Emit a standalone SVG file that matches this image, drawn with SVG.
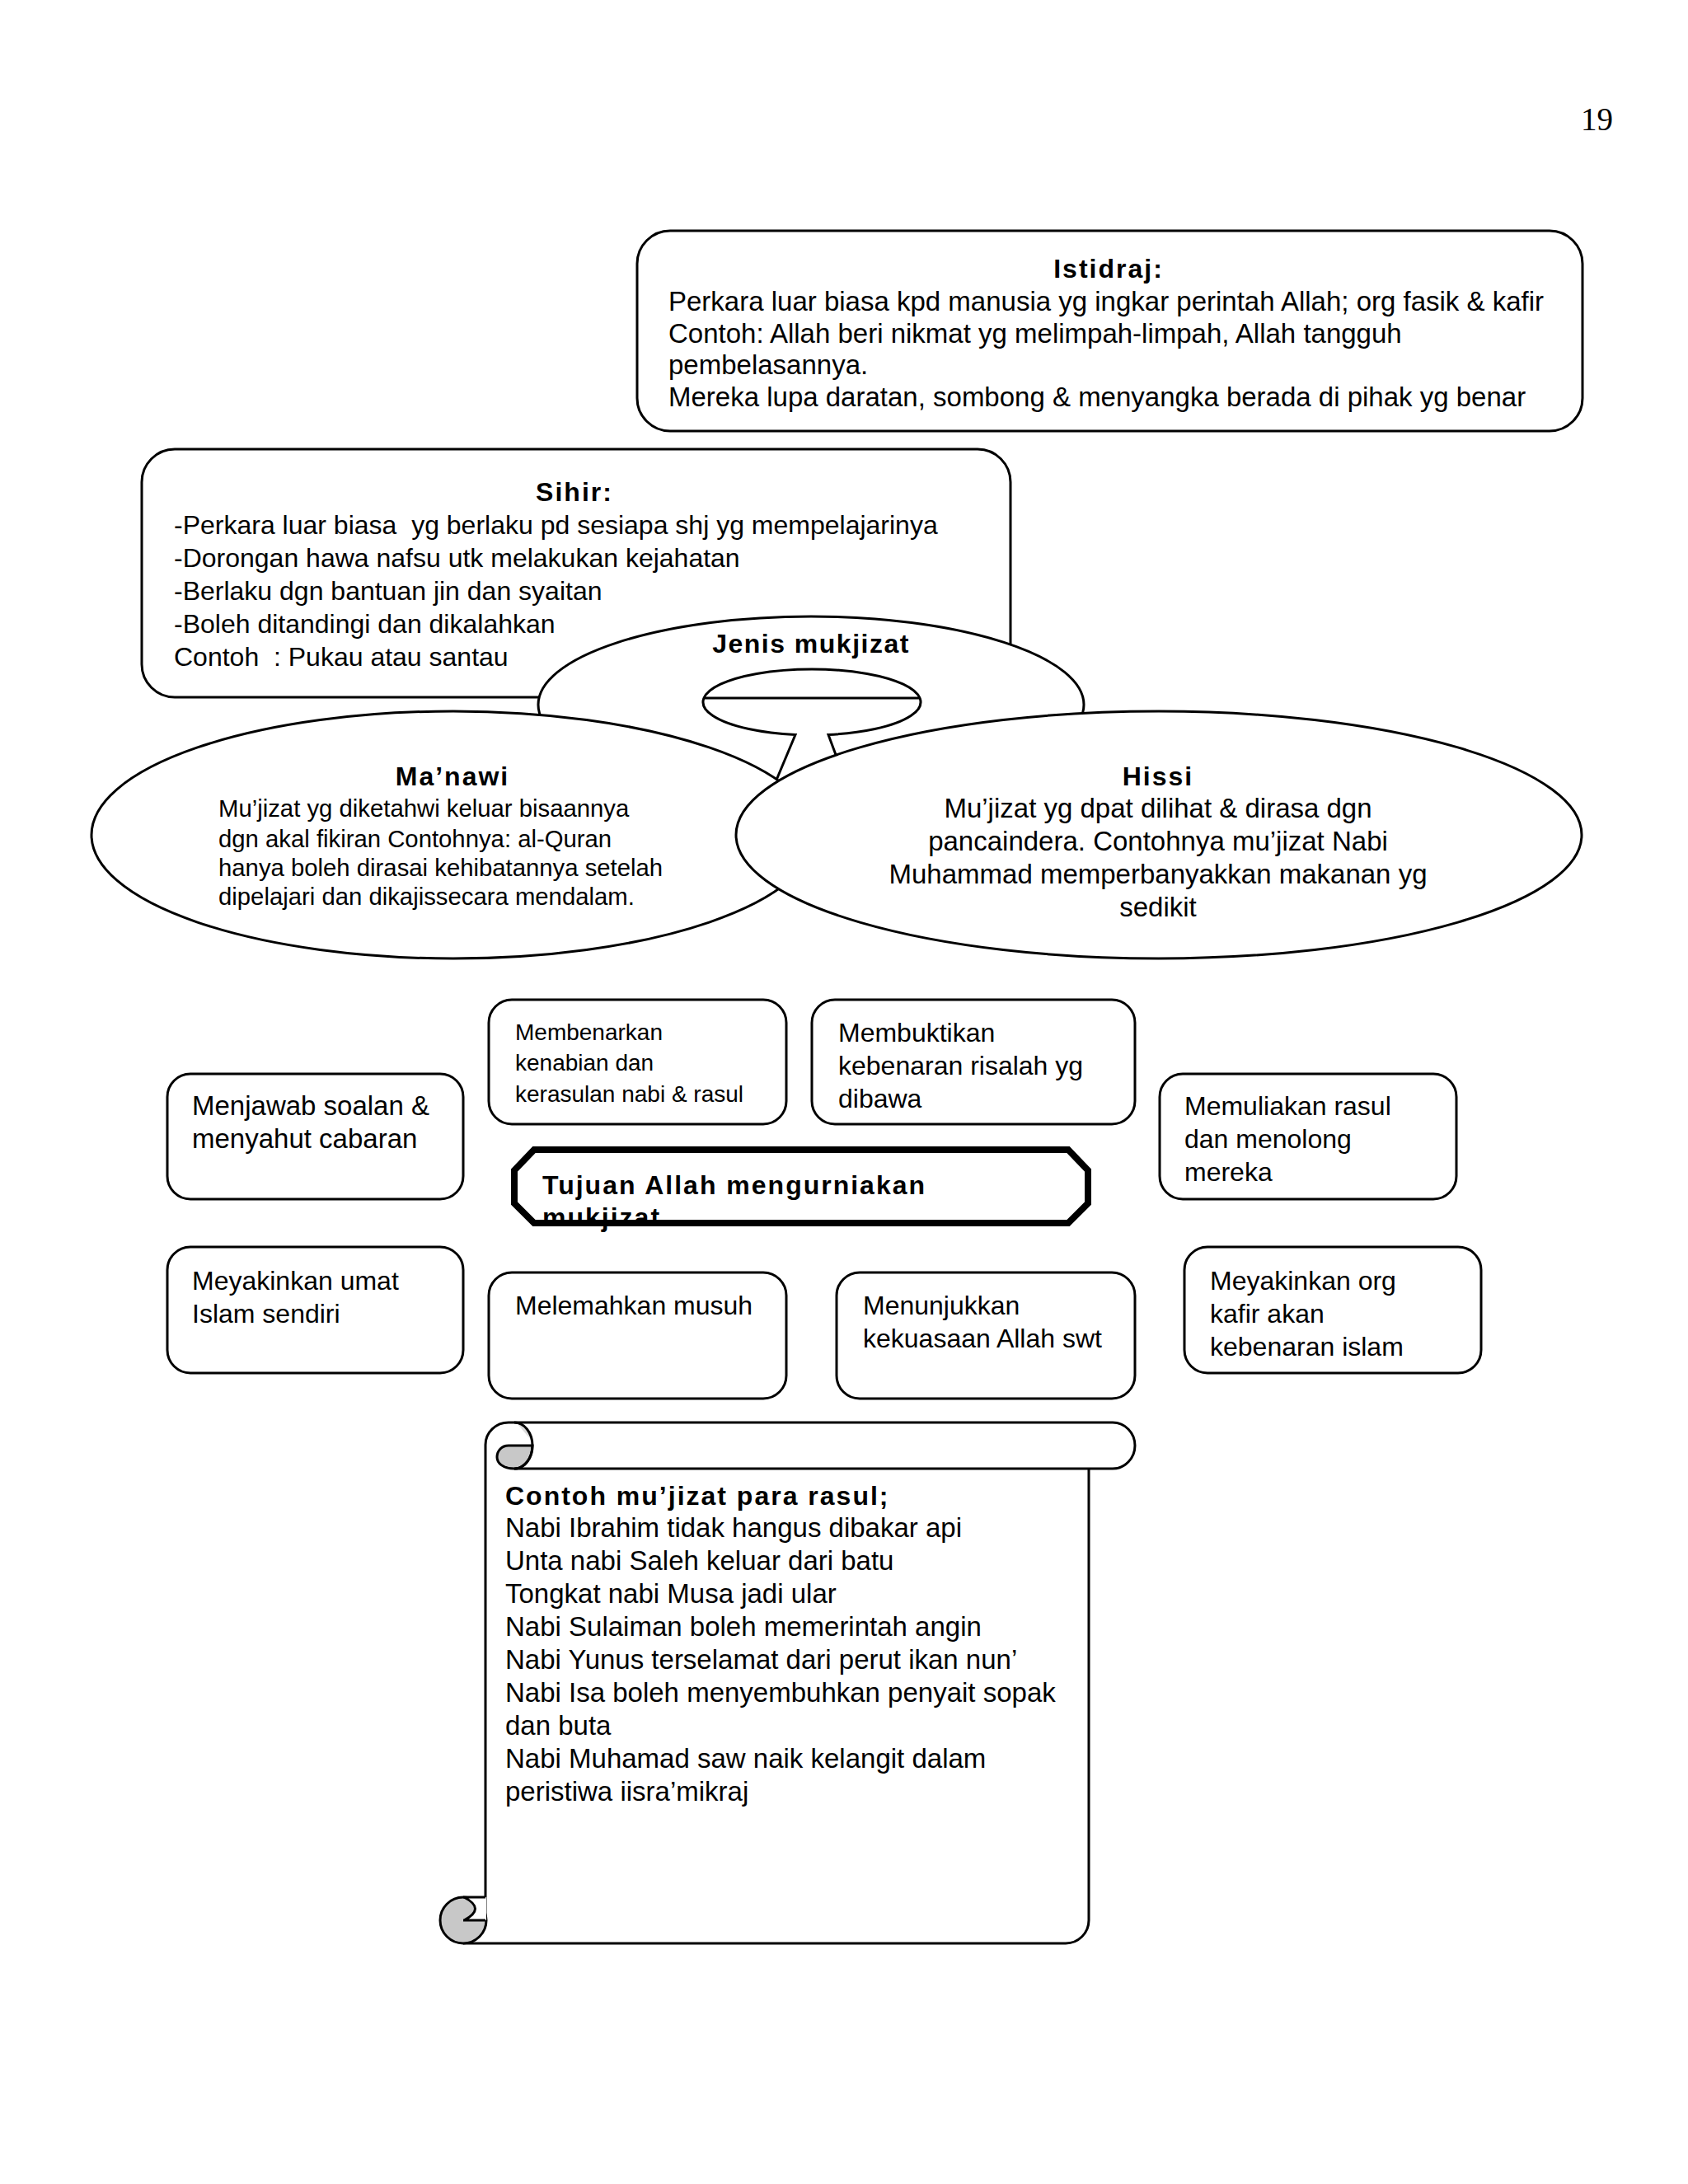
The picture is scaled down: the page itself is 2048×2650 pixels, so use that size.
<svg xmlns="http://www.w3.org/2000/svg" width="2048" height="2650" viewBox="0 0 2048 2650">
<style>
.b{fill:#fff;stroke:#000;stroke-width:3}
.s{fill:none;stroke:#000;stroke-width:3}
.t{font-family:"Liberation Sans",Arial,sans-serif;font-size:32px;fill:#000}
.h{font-weight:bold;letter-spacing:2px}
.m{text-anchor:middle}
.sm{font-size:28px}
.mn{font-size:29.3px}
.l{font-size:33px}
</style>
<rect width="2048" height="2650" fill="#fff"/>
<g id="page-number"><text x="1957" y="158" font-family="'Liberation Serif','Times New Roman',serif" font-size="39" text-anchor="end">19</text></g>

<g id="istidraj">
<rect class="b" x="773" y="280" width="1147" height="243" rx="40"/>
<text class="t h m" x="1345" y="337">Istidraj:</text>
<text class="t l" x="811" y="377">Perkara luar biasa kpd manusia yg ingkar perintah Allah; org fasik &amp; kafir</text>
<text class="t l" x="811" y="416">Contoh: Allah beri nikmat yg melimpah-limpah, Allah tangguh</text>
<text class="t l" x="811" y="454">pembelasannya.</text>
<text class="t l" x="811" y="493">Mereka lupa daratan, sombong &amp; menyangka berada di pihak yg benar</text>
</g>

<g id="sihir">
<rect class="b" x="172" y="545" width="1054" height="301" rx="40"/>
<text class="t h m" x="697" y="608">Sihir:</text>
<text class="t" x="211" y="648" xml:space="preserve">-Perkara luar biasa  yg berlaku pd sesiapa shj yg mempelajarinya</text>
<text class="t" x="211" y="688">-Dorongan hawa nafsu utk melakukan kejahatan</text>
<text class="t" x="211" y="728">-Berlaku dgn bantuan jin dan syaitan</text>
<text class="t" x="211" y="768">-Boleh ditandingi dan dikalahkan</text>
<text class="t" x="211" y="808" xml:space="preserve">Contoh  : Pukau atau santau</text>
</g>

<g id="jenis-mukjizat">
<ellipse class="b" cx="984" cy="855" rx="331" ry="107"/>
<text class="t m" x="984" y="792" font-weight="bold" letter-spacing="1.5">Jenis mukjizat</text>
<path class="b" d="M930,975 L965,891.5 A132 40 0 1 1 1005,891.5 L1036,975"/>
<path class="s" d="M853,847 H1117"/>
</g>

<g id="connectors"></g>

<g id="manawi">
<ellipse class="b" cx="550" cy="1013" rx="439" ry="150"/>
<text class="t h m" x="549" y="953" letter-spacing="1">Ma’nawi</text>
<text class="t mn" x="265" y="991">Mu’jizat yg diketahwi keluar bisaannya</text>
<text class="t mn" x="265" y="1028">dgn akal fikiran Contohnya: al-Quran</text>
<text class="t mn" x="265" y="1063">hanya boleh dirasai kehibatannya setelah</text>
<text class="t mn" x="265" y="1098">dipelajari dan dikajissecara mendalam.</text>
</g>

<g id="hissi">
<ellipse class="b" cx="1406" cy="1013" rx="513" ry="150"/>
<text class="t h m" x="1405" y="953" letter-spacing="1">Hissi</text>
<text class="t m l" x="1405" y="992">Mu’jizat yg dpat dilihat &amp; dirasa dgn</text>
<text class="t m l" x="1405" y="1032">pancaindera. Contohnya mu’jizat Nabi</text>
<text class="t m l" x="1405" y="1072">Muhammad memperbanyakkan makanan yg</text>
<text class="t m l" x="1405" y="1112">sedikit</text>
</g>

<g id="box-membenarkan">
<rect class="b" x="593" y="1213" width="361" height="151" rx="28"/>
<text class="t sm" x="625" y="1262">Membenarkan</text>
<text class="t sm" x="625" y="1299">kenabian dan</text>
<text class="t sm" x="625" y="1337">kerasulan nabi &amp; rasul</text>
</g>
<g id="box-membuktikan">
<rect class="b" x="985" y="1213" width="392" height="151" rx="28"/>
<text class="t" x="1017" y="1264">Membuktikan</text>
<text class="t" x="1017" y="1304">kebenaran risalah yg</text>
<text class="t" x="1017" y="1344">dibawa</text>
</g>
<g id="box-menjawab">
<rect class="b" x="203" y="1303" width="359" height="152" rx="28"/>
<text class="t l" x="233" y="1353">Menjawab soalan &amp;</text>
<text class="t l" x="233" y="1393">menyahut cabaran</text>
</g>
<g id="box-memuliakan">
<rect class="b" x="1407" y="1303" width="360" height="152" rx="28"/>
<text class="t" x="1437" y="1353">Memuliakan rasul</text>
<text class="t" x="1437" y="1393">dan menolong</text>
<text class="t" x="1437" y="1433">mereka</text>
</g>

<g id="tujuan">
<polygon points="648,1395 1296,1395 1320,1420 1320,1460 1296,1484 648,1484 624,1460 624,1420" fill="#fff"/>
<text class="t h" x="658" y="1449">Tujuan Allah mengurniakan</text>
<text class="t h" x="658" y="1488">mukjizat</text>
<polygon points="648,1395 1296,1395 1320,1420 1320,1460 1296,1484 648,1484 624,1460 624,1420" fill="none" stroke="#000" stroke-width="8"/>
</g>

<g id="box-meyakinkan-umat">
<rect class="b" x="203" y="1513" width="359" height="153" rx="28"/>
<text class="t" x="233" y="1565">Meyakinkan umat</text>
<text class="t" x="233" y="1605">Islam sendiri</text>
</g>
<g id="box-melemahkan">
<rect class="b" x="593" y="1544" width="361" height="153" rx="28"/>
<text class="t" x="625" y="1595">Melemahkan musuh</text>
</g>
<g id="box-menunjukkan">
<rect class="b" x="1015" y="1544" width="362" height="153" rx="28"/>
<text class="t" x="1047" y="1595">Menunjukkan</text>
<text class="t" x="1047" y="1635">kekuasaan Allah swt</text>
</g>
<g id="box-meyakinkan-org">
<rect class="b" x="1437" y="1513" width="360" height="153" rx="28"/>
<text class="t" x="1468" y="1565">Meyakinkan org</text>
<text class="t" x="1468" y="1605">kafir akan</text>
<text class="t" x="1468" y="1645">kebenaran islam</text>
</g>

<g id="contoh-scroll">
<path d="M589,1753 A28 27 0 0 1 617,1726 H1350 A27 28 0 0 1 1350,1782 H1321 V2330 A28 28 0 0 1 1293,2358 H562 V2302 H589 Z" fill="#fff"/>
<path class="s" d="M589,1753 A28 27 0 0 1 617,1726 H1350 A27 28 0 0 1 1350,1782 H624"/>
<path class="s" d="M1321,1782 V2330 A28 28 0 0 1 1293,2358 H562"/>
<path class="s" d="M589,1753 V2330"/>
<path d="M617,1754 H646 A22 28 0 0 1 624,1782 C610,1782 603,1775 603,1768 C603,1760 609,1754 617,1754 Z" fill="#c8c8c8" stroke="#000" stroke-width="3"/>
<path d="M628,1728 A22 28 0 0 1 645,1748 Z" fill="#dcdcdc"/>
<path class="s" d="M624,1726 A22 28 0 0 1 624,1782"/>
<ellipse cx="562" cy="2330" rx="28" ry="28" fill="#c8c8c8" stroke="#000" stroke-width="3"/>
<path d="M563,2302 H590 V2330 H563 Q590,2316 563,2302 Z" fill="#fff"/>
<path class="s" d="M562,2302 H589 M562,2330 H589 M563,2302 Q590,2316 563,2330"/>
<text class="t h" x="613" y="1826">Contoh mu’jizat para rasul;</text>
<text class="t l" x="613" y="1865">Nabi Ibrahim tidak hangus dibakar api</text>
<text class="t l" x="613" y="1905">Unta nabi Saleh keluar dari batu</text>
<text class="t l" x="613" y="1945">Tongkat nabi Musa jadi ular</text>
<text class="t l" x="613" y="1985">Nabi Sulaiman boleh memerintah angin</text>
<text class="t l" x="613" y="2025">Nabi Yunus terselamat dari perut ikan nun’</text>
<text class="t l" x="613" y="2065">Nabi Isa boleh menyembuhkan penyait sopak</text>
<text class="t l" x="613" y="2105">dan buta</text>
<text class="t l" x="613" y="2145">Nabi Muhamad saw naik kelangit dalam</text>
<text class="t l" x="613" y="2185">peristiwa iisra’mikraj</text>
</g>
</svg>
